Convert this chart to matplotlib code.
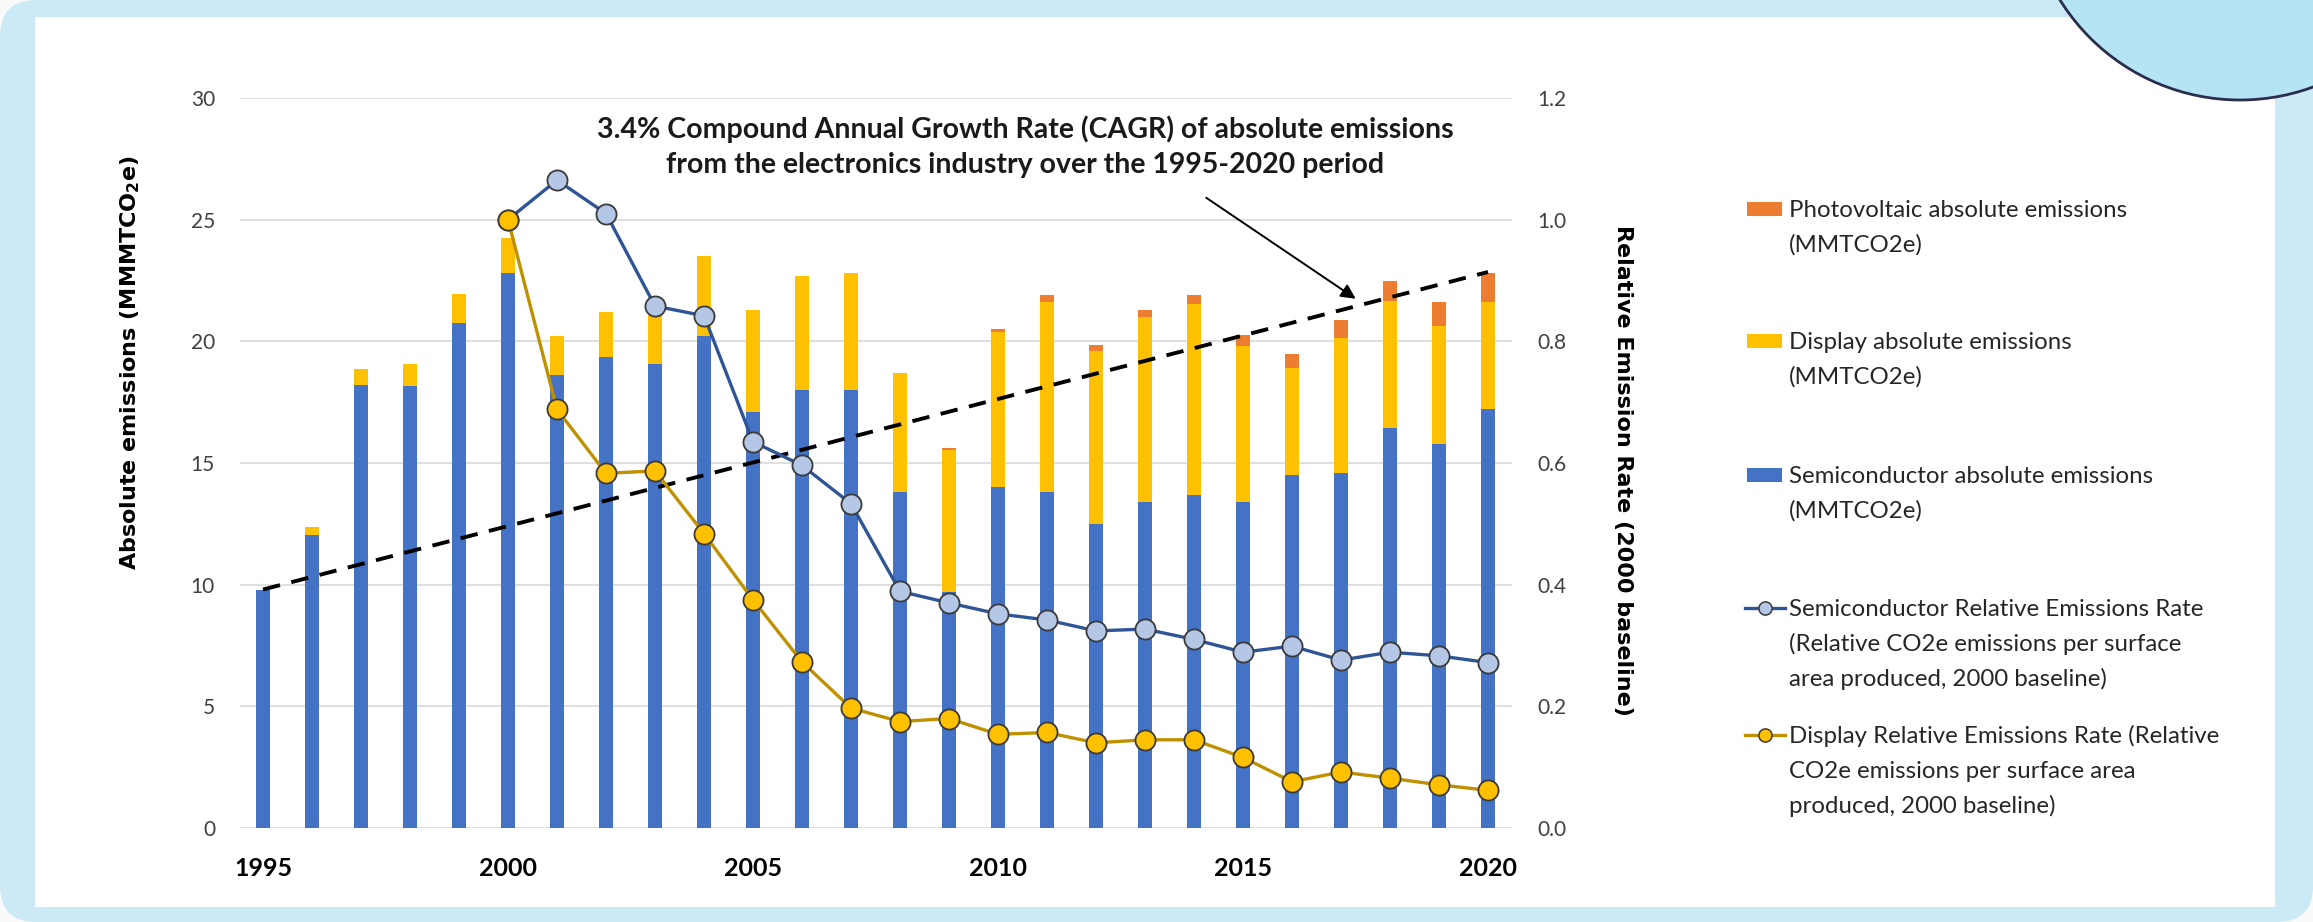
import numpy as np
import matplotlib.pyplot as plt
from matplotlib.patches import FancyBboxPatch, Rectangle, Circle
from matplotlib.lines import Line2D

plt.rcParams['font.family'] = ['Lato', 'DejaVu Sans']
plt.rcParams['mathtext.fontset'] = 'dejavusans'

# absolute emissions, MMTCO2e (stacked bars, left axis)
years = np.arange(1995, 2021)
semiconductor = [9.8, 12.05, 18.2, 18.15, 20.75, 22.8, 18.6, 19.35, 19.05, 20.2,
                 17.1, 18.0, 18.0, 13.8, 9.7, 14.0, 13.8, 12.5, 13.4, 13.7,
                 13.4, 14.5, 14.6, 16.45, 15.8, 17.2]
display = [0.0, 0.3, 0.65, 0.9, 1.2, 1.45, 1.6, 1.85, 2.25, 3.3,
           4.2, 4.7, 4.8, 4.9, 5.85, 6.4, 7.8, 7.1, 7.6, 7.85,
           6.4, 4.4, 5.55, 5.2, 4.85, 4.4]
photovoltaic = [0, 0, 0, 0, 0, 0, 0, 0, 0, 0,
                0, 0, 0, 0, 0.05, 0.1, 0.29, 0.23, 0.29, 0.34,
                0.45, 0.56, 0.71, 0.82, 0.96, 1.2]

# relative emission rates, 2000 baseline (right axis)
rate_years = np.arange(2000, 2021)
semi_rate = [1.0, 1.065, 1.01, 0.858, 0.842, 0.635, 0.596, 0.533, 0.389, 0.370,
             0.352, 0.342, 0.324, 0.327, 0.310, 0.289, 0.299, 0.276, 0.289, 0.283, 0.272]
display_rate = [1.0, 0.688, 0.583, 0.587, 0.484, 0.375, 0.273, 0.197, 0.175, 0.180,
                0.154, 0.157, 0.140, 0.145, 0.145, 0.116, 0.076, 0.092, 0.082, 0.071, 0.062]

# 3.4% CAGR trend line
cagr_years = [1995, 2020]
cagr_values = [9.8, 22.85]

legend_labels = [
    ["Photovoltaic absolute emissions", "(MMTCO2e)"],
    ["Display absolute emissions", "(MMTCO2e)"],
    ["Semiconductor absolute emissions", "(MMTCO2e)"],
    ["Semiconductor Relative Emissions Rate", "(Relative CO2e emissions per surface",
     "area produced, 2000 baseline)"],
    ["Display Relative Emissions Rate (Relative", "CO2e emissions per surface area",
     "produced, 2000 baseline)"],
]

BLUE = '#4472C4'
YELLOW = '#FFC000'
ORANGE = '#ED7D31'
SEMI_LINE = '#2F5597'
SEMI_MARK = '#B4C7E7'
DISP_LINE = '#BF9000'

W, H = 2313, 922
fig = plt.figure(figsize=(W / 100, H / 100), dpi=100)
fig.patch.set_facecolor('#fafafa')

# card background
bg = fig.add_axes([0, 0, 1, 1], zorder=-5)
bg.set_xlim(0, W)
bg.set_ylim(H, 0)
bg.axis('off')
bg.add_patch(FancyBboxPatch((0, 0), W, H, boxstyle='round,pad=0,rounding_size=36',
                            fc='#cbeaf5', ec='none'))
bg.add_patch(Rectangle((35, 17), 2240, 890, fc='white', ec='none'))
bg.add_patch(Circle((2240, -112), 212, fc='#b5e4f5', ec='#2b2d4f', lw=2))

# main chart
ax = fig.add_axes([240 / W, (H - 828) / H, 1272 / W, 730 / H])
ax.set_facecolor('none')
bw = 0.3
ax.bar(years, semiconductor, bw, color=BLUE, zorder=2)
ax.bar(years, display, bw, bottom=semiconductor, color=YELLOW, zorder=2)
ax.bar(years, photovoltaic, bw, bottom=np.add(semiconductor, display), color=ORANGE, zorder=2)
ax.plot(cagr_years, cagr_values, color='black', lw=2.8, ls=(0, (4.5, 3)), zorder=3)

ax.set_xlim(1994.53, 2020.49)
ax.set_ylim(0, 30)
ax.set_yticks(range(0, 31, 5))
ax.set_xticks(range(1995, 2021, 5))
ax.grid(axis='y', color='#d9d9d9', lw=1.2)
ax.set_axisbelow(True)
for s in ax.spines.values():
    s.set_visible(False)
ax.tick_params(axis='y', length=0, pad=18, labelsize=15, labelcolor='#404040')
ax.tick_params(axis='x', length=0, pad=21, labelsize=18)
for t in ax.get_xticklabels():
    t.set_fontweight('bold')

ax.set_ylabel(r'Absolute emissions (MMMTCO$_\mathbf{2}$e)', fontsize=16, fontweight='bold',
              family='DejaVu Sans', ha='center', va='center')
ax.yaxis.set_label_coords(-0.0865, 0.638)

ax.text(2010.55, 28.0, '3.4% Compound Annual Growth Rate (CAGR) of absolute emissions\n'
        'from the electronics industry over the 1995-2020 period',
        ha='center', va='center', fontsize=20.5, fontweight='bold', linespacing=1.4,
        color='#1a1a1a')
ax.annotate('', xy=(2017.3, 21.75), xytext=(2014.25, 25.9),
            arrowprops=dict(arrowstyle='-|>', color='black', lw=1.4,
                            mutation_scale=22, shrinkA=0, shrinkB=0))

# relative rates
ax2 = ax.twinx()
ax2.plot(rate_years, semi_rate, color=SEMI_LINE, lw=2.4, marker='o', ms=14.5,
         mfc=SEMI_MARK, mec='#3a3a3a', mew=1.3, zorder=3)
ax2.plot(rate_years, display_rate, color=DISP_LINE, lw=2.4, marker='o', ms=14.5,
         mfc=YELLOW, mec='#3a3a3a', mew=1.3, zorder=4)
ax2.set_ylim(0, 1.2)
ax2.set_yticks(np.arange(0, 1.21, 0.2))
ax2.set_yticklabels([f'{v:.1f}' for v in np.arange(0, 1.21, 0.2)])
for s in ax2.spines.values():
    s.set_visible(False)
ax2.tick_params(axis='y', length=0, pad=18, labelsize=15, labelcolor='#404040')
ax2.set_ylabel('Relative Emission Rate (2000 baseline)', rotation=270, fontsize=16,
               fontweight='bold', family='DejaVu Sans', ha='center', va='center')
ax2.yaxis.set_label_coords(1.087, 0.49)

# legend, Excel style: key aligned with the first line of each label
lax = fig.add_axes([0, 0, 1, 1], zorder=5)
lax.set_xlim(0, W)
lax.set_ylim(H, 0)
lax.axis('off')
entry_y = [209, 341, 475, 608, 735]
keys = [('patch', ORANGE, None), ('patch', YELLOW, None), ('patch', BLUE, None),
        ('line', SEMI_LINE, SEMI_MARK), ('line', DISP_LINE, YELLOW)]
for y0, (kind, c, mc), lines in zip(entry_y, keys, legend_labels):
    if kind == 'patch':
        lax.add_patch(Rectangle((1747, y0 - 7), 35, 14, fc=c, ec='none'))
    else:
        lax.add_line(Line2D([1745, 1785], [y0, y0], color=c, lw=2.4))
        lax.add_line(Line2D([1765], [y0], marker='o', ms=9.5, mfc=mc, mec='#3a3a3a', mew=1.1))
    for i, txt in enumerate(lines):
        lax.text(1789, y0 + 8 + i * 35, txt, fontsize=17.3, color='#262626',
                 ha='left', va='baseline')

fig.savefig('out.png', dpi=100, facecolor=fig.get_facecolor())
